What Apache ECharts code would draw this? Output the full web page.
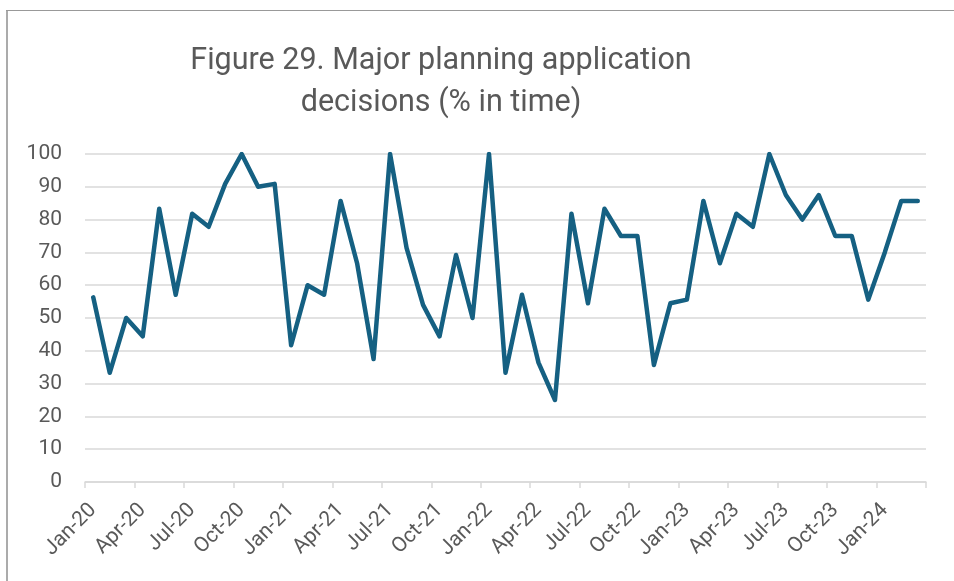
<!DOCTYPE html>
<html>
<head>
<meta charset="utf-8">
<script src="https://cdn.jsdelivr.net/npm/echarts@6/dist/echarts.min.js"></script>
<style>
  html, body { margin: 0; padding: 0; background: #fff; }
  #chart { width: 954px; height: 581px; }
</style>
</head>
<body>
<div id="chart"></div>
<script>
const months = [
  "Jan-20", "Feb-20", "Mar-20", "Apr-20", "May-20", "Jun-20", "Jul-20", "Aug-20", "Sep-20", "Oct-20", "Nov-20", "Dec-20",
  "Jan-21", "Feb-21", "Mar-21", "Apr-21", "May-21", "Jun-21", "Jul-21", "Aug-21", "Sep-21", "Oct-21", "Nov-21", "Dec-21",
  "Jan-22", "Feb-22", "Mar-22", "Apr-22", "May-22", "Jun-22", "Jul-22", "Aug-22", "Sep-22", "Oct-22", "Nov-22", "Dec-22",
  "Jan-23", "Feb-23", "Mar-23", "Apr-23", "May-23", "Jun-23", "Jul-23", "Aug-23", "Sep-23", "Oct-23", "Nov-23", "Dec-23",
  "Jan-24", "Feb-24", "Mar-24"
];

// % of major decisions made in time
const inTime = [
  56.3, 33.3, 50, 44.4, 83.3, 57.1, 81.8, 77.8, 90.9, 100, 90, 90.9,
  41.7, 60, 57.1, 85.7, 66.7, 37.5, 100, 71.4, 54, 44.4, 69.2, 50,
  100, 33.3, 57.1, 36.4, 25, 81.8, 54.5, 83.3, 75, 75, 35.7, 54.5,
  55.6, 85.7, 66.7, 81.8, 77.8, 100, 87.5, 80, 87.5, 75, 75, 55.6,
  70, 85.7, 85.7
];

const yTicks = { min: 0, max: 100, step: 10 };

const chart = echarts.init(document.getElementById("chart"));

const option = {
  backgroundColor: "#fff",
  animation: false,
  title: {
    text: "Figure 29. Major planning application\ndecisions (% in time)",
    left: 436,
    top: 35,
    textAlign: "center",
    textStyle: {
      fontFamily: "Roboto",
      fontWeight: "normal",
      fontSize: 30.5,
      lineHeight: 42,
      color: "#595959"
    }
  },
  graphic: [
    { type: "line", shape: { x1: 7, y1: 10, x2: 7, y2: 581 }, style: { stroke: "#ababab", lineWidth: 2 } },
    { type: "line", shape: { x1: 6, y1: 10.5, x2: 954, y2: 10.5 }, style: { stroke: "#999", lineWidth: 1 } }
  ],
  grid: {
    left: 85,
    right: 28,
    top: 154,
    bottom: 99,
    containLabel: false
  },
  xAxis: {
    type: "category",
    data: months,
    boundaryGap: true,
    axisLine: { lineStyle: { color: "#d9d9d9", width: 1.5 } },
    axisTick: { show: true, interval: 2, length: 6, lineStyle: { color: "#d9d9d9", width: 1.5 } },
    axisLabel: {
      interval: 2,
      rotate: 45,
      margin: 25,
      fontFamily: "Roboto",
      fontSize: 21,
      color: "#595959"
    }
  },
  yAxis: {
    type: "value",
    min: yTicks.min,
    max: yTicks.max,
    interval: yTicks.step,
    axisLine: { show: false },
    axisTick: { show: false },
    splitLine: { lineStyle: { color: "#d9d9d9", width: 1.5 } },
    axisLabel: {
      margin: 23,
      fontFamily: "Roboto",
      fontSize: 21,
      color: "#595959"
    }
  },
  series: [
    {
      name: "% in time",
      type: "line",
      data: inTime,
      symbol: "none",
      lineStyle: { color: "#156082", width: 4.5, join: "round", cap: "round" }
    }
  ]
};

chart.setOption(option);
</script>
</body>
</html>
